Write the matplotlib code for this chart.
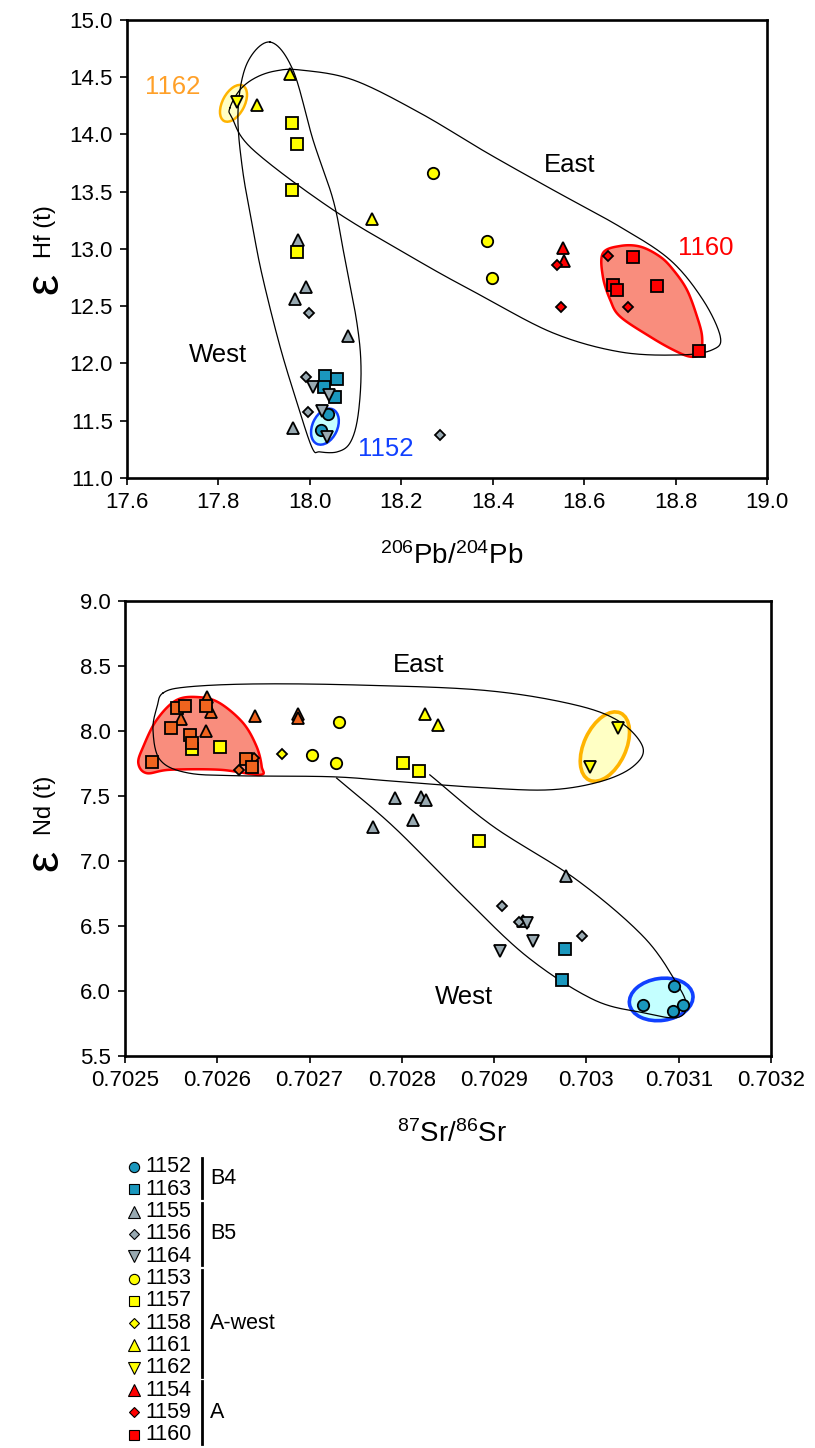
import numpy as np
import matplotlib
matplotlib.use("Agg")
import matplotlib.pyplot as plt
from matplotlib.patches import Ellipse, Polygon
from matplotlib.transforms import ScaledTranslation

plt.rcParams['font.family'] = ['Liberation Sans', 'DejaVu Sans']
plt.rcParams['mathtext.default'] = 'regular'
NARROW = ['Liberation Sans Narrow', 'Liberation Sans', 'DejaVu Sans']

# ---------------- data: top panel (206Pb/204Pb vs eHf) ----------------
hf_1152_x = [18.040, 18.025]
hf_1152_y = [11.559, 11.420]
hf_1163_x = [18.034, 18.059, 18.031, 18.055]
hf_1163_y = [11.891, 11.862, 11.792, 11.705]
hf_1155_x = [17.975, 17.992, 17.968, 18.083, 17.963]
hf_1155_y = [13.078, 12.665, 12.563, 12.243, 11.440]
hf_1156_x = [17.998, 17.992, 17.995, 18.285]
hf_1156_y = [12.443, 11.880, 11.579, 11.374]
hf_1164_x = [18.006, 18.041, 18.027, 18.037]
hf_1164_y = [11.798, 11.725, 11.588, 11.361]
hf_1153_x = [18.270, 18.388, 18.399]
hf_1153_y = [13.665, 13.069, 12.749]
hf_1157_x = [17.960, 17.971, 17.960, 17.971]
hf_1157_y = [14.096, 13.915, 13.514, 12.970]
hf_1161_x = [17.957, 17.884, 18.135]
hf_1161_y = [14.526, 14.256, 13.258]
hf_1162_x = [17.840]
hf_1162_y = [14.284]
hf_1154_x = [18.553, 18.557]
hf_1154_y = [13.010, 12.892]
hf_1159_x = [18.540, 18.550, 18.653, 18.695]
hf_1159_y = [12.857, 12.496, 12.941, 12.496]
hf_1160_x = [18.706, 18.664, 18.672, 18.760, 18.852]
hf_1160_y = [12.932, 12.685, 12.641, 12.679, 12.112]

# envelopes (outline points)
hf_west_x = [17.913, 17.963, 18.007, 18.051, 18.073, 18.103, 18.112, 18.105, 18.088, 18.060,
             18.022, 18.005, 17.972, 17.935, 17.898, 17.878, 17.852, 17.843, 17.863]
hf_west_y = [14.805, 14.561, 13.950, 13.427, 12.990, 12.353, 11.943, 11.533, 11.307, 11.228,
             11.228, 11.263, 11.656, 12.144, 12.729, 13.121, 13.715, 14.212, 14.622]
hf_east_x = [17.825, 17.847, 17.880, 17.924, 17.979, 18.095, 18.241, 18.388, 18.532, 18.679,
             18.788, 18.860, 18.898, 18.880, 18.810, 18.679, 18.532, 18.372, 18.241, 18.051,
             17.876, 17.830]
hf_east_y = [14.229, 14.387, 14.491, 14.552, 14.561, 14.474, 14.186, 13.837, 13.514, 13.191,
             12.903, 12.554, 12.231, 12.118, 12.074, 12.100, 12.266, 12.598, 12.886, 13.340,
             13.864, 14.142]
hf_1160_env_x = [18.641, 18.679, 18.723, 18.766, 18.795, 18.825, 18.847, 18.858, 18.854, 18.832,
                 18.795, 18.744, 18.679, 18.657, 18.641]
hf_1160_env_y = [12.962, 13.025, 13.019, 12.932, 12.816, 12.641, 12.408, 12.234, 12.089, 12.059,
                 12.118, 12.234, 12.408, 12.554, 12.757]
hf_1162_ell = (17.833, 14.270)
hf_1152_ell = (18.033, 11.448)

# ---------------- data: bottom panel (87Sr/86Sr vs eNd) ----------------
nd_1152_x = [0.7030946, 0.7030614, 0.7031047, 0.7030939]
nd_1152_y = [6.040, 5.894, 5.894, 5.848]
nd_1163_x = [0.7029769, 0.7029733]
nd_1163_y = [6.327, 6.091]
nd_1155_x = [0.7027924, 0.7028203, 0.7028257, 0.7028116, 0.7027683, 0.7029784, 0.7029314]
nd_1155_y = [7.485, 7.492, 7.472, 7.313, 7.262, 6.883, 6.538]
nd_1156_x = [0.7029080, 0.7029271, 0.7029957]
nd_1156_y = [6.659, 6.534, 6.423]
nd_1164_x = [0.7029351, 0.7029416, 0.7029062]
nd_1164_y = [6.526, 6.385, 6.308]
nd_1153_x = [0.7027318, 0.7027029, 0.7027285]
nd_1153_y = [8.070, 7.814, 7.753]
nd_1157_x = [0.7025722, 0.7026029, 0.7028014, 0.7028184, 0.7028834]
nd_1157_y = [7.860, 7.876, 7.753, 7.689, 7.157]
nd_1158_x = [0.7026704]
nd_1158_y = [7.824]
nd_1161_x = [0.7028249, 0.7028393]
nd_1161_y = [8.131, 8.047]
nd_1162_x = [0.7030343, 0.7030036]
nd_1162_y = [8.021, 7.727]
nd_1154_x = [0.7025891, 0.7025928, 0.7025603, 0.7025877, 0.7026408, 0.7026877, 0.7026877]
nd_1154_y = [8.264, 8.146, 8.091, 8.003, 8.116, 8.129, 8.098]
nd_1159_x = [0.7026235, 0.7026397]
nd_1159_y = [7.702, 7.792]
nd_1160_x = [0.7025566, 0.7025653, 0.7025874, 0.7025495, 0.7025701, 0.7025722, 0.7025289,
             0.7026307, 0.7026372]
nd_1160_y = [8.175, 8.192, 8.192, 8.024, 7.972, 7.906, 7.763, 7.788, 7.727]

nd_east_x = [0.7025412, 0.7025672, 0.7026386, 0.7027469, 0.7028845, 0.7029787, 0.7030329,
             0.7030610, 0.7030502, 0.7030145, 0.7029603, 0.7028877, 0.7027979, 0.7027253,
             0.7026213, 0.7025672, 0.7025379, 0.7025303, 0.7025347]
nd_east_y = [8.292, 8.338, 8.361, 8.354, 8.315, 8.215, 8.085, 7.878, 7.725, 7.610, 7.548,
             7.564, 7.610, 7.648, 7.656, 7.679, 7.779, 8.009, 8.185]
nd_west_x = [0.7027293, 0.7027906, 0.7028628, 0.7029351, 0.7030072, 0.7030614, 0.7030975,
             0.7031084, 0.7030975, 0.7030614, 0.7029892, 0.7028989, 0.7028303]
nd_west_y = [7.638, 7.267, 6.756, 6.270, 5.938, 5.836, 5.798, 5.887, 6.066, 6.423, 6.858,
             7.267, 7.663]
nd_1160_env_x = [0.7025144, 0.7025235, 0.7025487, 0.7026029, 0.7026462, 0.7026481, 0.7026426,
                 0.7026281, 0.7026029, 0.7025812, 0.7025560, 0.7025343, 0.7025198]
nd_1160_env_y = [7.753, 7.676, 7.702, 7.702, 7.663, 7.727, 7.880, 8.060, 8.213, 8.259, 8.238,
                 8.085, 7.880]
nd_1162_ell = (0.7030200, 7.880)
nd_1152_ell = (0.7030810, 5.938)

hf_xticks = [17.6, 17.8, 18.0, 18.2, 18.4, 18.6, 18.8, 19.0]
hf_yticks = [11.0, 11.5, 12.0, 12.5, 13.0, 13.5, 14.0, 14.5, 15.0]
nd_xticks = [0.7025, 0.7026, 0.7027, 0.7028, 0.7029, 0.7030, 0.7031, 0.7032]
nd_xticklabels = ['0.7025', '0.7026', '0.7027', '0.7028', '0.7029', '0.703', '0.7031', '0.7032']
nd_yticks = [5.5, 6.0, 6.5, 7.0, 7.5, 8.0, 8.5, 9.0]

legend_groups = [('B4', ['1152', '1163']),
                 ('B5', ['1155', '1156', '1164']),
                 ('A-west', ['1153', '1157', '1158', '1161', '1162']),
                 ('A', ['1154', '1159', '1160'])]

# ---------------- styles ----------------
TEAL = '#1a97bd'
GRAY = '#98a9b1'
YEL = '#ffff00'
RED = '#ff0000'
ORANGE = '#f0641e'
SALMON = '#f98d7d'

style = {
    '1152': ('o', TEAL, 8.2), '1163': ('s', TEAL, 8.0),
    '1155': ('^', GRAY, 9.2), '1156': ('D', GRAY, 5.4), '1164': ('v', GRAY, 9.2),
    '1153': ('o', YEL, 8.2), '1157': ('s', YEL, 8.0), '1158': ('D', YEL, 5.4),
    '1161': ('^', YEL, 9.2), '1162': ('v', YEL, 9.2),
    '1154': ('^', RED, 9.2), '1159': ('D', RED, 5.4), '1160': ('s', RED, 8.0),
}


def cr_closed(xs, ys, n=24):
    P = np.column_stack([xs, ys]).astype(float)
    N = len(P)
    t = np.linspace(0, 1, n, endpoint=False)[:, None]
    segs = []
    for i in range(N):
        p0, p1, p2, p3 = P[(i - 1) % N], P[i], P[(i + 1) % N], P[(i + 2) % N]
        segs.append(0.5 * (2 * p1 + (-p0 + p2) * t + (2 * p0 - 5 * p1 + 4 * p2 - p3) * t ** 2
                           + (-p0 + 3 * p1 - 3 * p2 + p3) * t ** 3))
    out = np.vstack(segs)
    return np.vstack([out, out[:1]])


def cr_open(xs, ys, n=24):
    P = np.column_stack([xs, ys]).astype(float)
    P = np.vstack([2 * P[0] - P[1], P, 2 * P[-1] - P[-2]])
    t = np.linspace(0, 1, n)[:, None]
    segs = []
    for i in range(1, len(P) - 2):
        p0, p1, p2, p3 = P[i - 1], P[i], P[i + 1], P[i + 2]
        segs.append(0.5 * (2 * p1 + (-p0 + p2) * t + (2 * p0 - 5 * p1 + 4 * p2 - p3) * t ** 2
                           + (-p0 + 3 * p1 - 3 * p2 + p3) * t ** 3))
    return np.vstack(segs)


def pix_ellipse(ax, fig, center, w_in, h_in, angle, fc, ec, lw):
    tr = fig.dpi_scale_trans + ScaledTranslation(center[0], center[1], ax.transData)
    e = Ellipse((0, 0), w_in, h_in, angle=angle, transform=tr, facecolor=fc,
                edgecolor=ec, lw=lw, zorder=2)
    ax.add_patch(e)


def style_axes(ax):
    for s in ax.spines.values():
        s.set_linewidth(1.9)
    ax.tick_params(direction='out', length=5, width=1.2, labelsize=16, top=False, right=False,
                   pad=5)
    for lab in ax.get_xticklabels() + ax.get_yticklabels():
        lab.set_family(NARROW)


fig = plt.figure(figsize=(8.15, 14.48), dpi=100)

# ================= top panel =================
ax1 = fig.add_axes([0.1558, 0.6699, 0.7853, 0.3165])
ax1.set_xlim(17.6, 19.0)
ax1.set_ylim(11.0, 15.0)
ax1.set_xticks(hf_xticks)
ax1.set_xticklabels(['%.1f' % v for v in hf_xticks])
ax1.set_yticks(hf_yticks)
ax1.set_yticklabels(['%.1f' % v for v in hf_yticks])
style_axes(ax1)

c = cr_closed(hf_1160_env_x, hf_1160_env_y)
ax1.add_patch(Polygon(c, closed=True, facecolor=SALMON, edgecolor=RED, lw=1.8, zorder=1))
pix_ellipse(ax1, fig, hf_1162_ell, 0.40, 0.22, 62, '#ffffc4', '#ffb400', 1.8)
pix_ellipse(ax1, fig, hf_1152_ell, 0.38, 0.25, 65, '#c4ffff', '#1040ff', 1.8)
for ex, ey in [(hf_west_x, hf_west_y), (hf_east_x, hf_east_y)]:
    c = cr_closed(ex, ey)
    ax1.plot(c[:, 0], c[:, 1], color='black', lw=0.9, zorder=3)

top_series = [('1152', hf_1152_x, hf_1152_y), ('1163', hf_1163_x, hf_1163_y),
              ('1155', hf_1155_x, hf_1155_y), ('1156', hf_1156_x, hf_1156_y),
              ('1164', hf_1164_x, hf_1164_y), ('1153', hf_1153_x, hf_1153_y),
              ('1157', hf_1157_x, hf_1157_y), ('1161', hf_1161_x, hf_1161_y),
              ('1162', hf_1162_x, hf_1162_y), ('1154', hf_1154_x, hf_1154_y),
              ('1159', hf_1159_x, hf_1159_y), ('1160', hf_1160_x, hf_1160_y)]
for sid, xs, ys in top_series:
    m, col, ms = style[sid]
    ax1.plot(xs, ys, ls='none', marker=m, mfc=col, mec='black', mew=1.3, ms=ms, zorder=5)

ax1.text(17.70, 14.41, '1162', color='#ffa028', fontsize=18.5, ha='center', va='center')
ax1.text(17.80, 12.07, 'West', color='black', fontsize=18.5, ha='center', va='center')
ax1.text(18.165, 11.25, '1152', color='#1040ff', fontsize=18.5, ha='center', va='center')
ax1.text(18.568, 13.73, 'East', color='black', fontsize=18.5, ha='center', va='center')
ax1.text(18.865, 13.01, '1160', color=RED, fontsize=18.5, ha='center', va='center')

fig.text(452 / 815, 1 - 556 / 1448, r'$^{206}$Pb/$^{204}$Pb', fontsize=20, family=NARROW,
         ha='center', va='center')
fig.text(45 / 815, 1 - 283 / 1448, 'ε', fontsize=34, rotation=90, ha='center', va='center')
fig.text(45 / 815, 1 - 232 / 1448, 'Hf (t)', fontsize=17, family=NARROW, rotation=90,
         ha='center', va='center')

# ================= bottom panel =================
ax2 = fig.add_axes([0.1534, 0.2704, 0.7926, 0.3147])
ax2.set_xlim(0.7025, 0.7032)
ax2.set_ylim(5.5, 9.0)
ax2.set_xticks(nd_xticks)
ax2.set_xticklabels(nd_xticklabels)
ax2.set_yticks(nd_yticks)
ax2.set_yticklabels(['%.1f' % v for v in nd_yticks])
style_axes(ax2)

c = cr_closed(nd_1160_env_x, nd_1160_env_y)
ax2.add_patch(Polygon(c, closed=True, facecolor=SALMON, edgecolor=RED, lw=1.8, zorder=1))
pix_ellipse(ax2, fig, nd_1162_ell, 0.74, 0.42, 65, '#ffffc4', '#ffb400', 2.6)
pix_ellipse(ax2, fig, nd_1152_ell, 0.64, 0.42, 8, '#c4ffff', '#1040ff', 2.6)
c = cr_closed(nd_east_x, nd_east_y)
ax2.plot(c[:, 0], c[:, 1], color='black', lw=0.9, zorder=3)
c = cr_open(nd_west_x, nd_west_y)
ax2.plot(c[:, 0], c[:, 1], color='black', lw=0.9, zorder=3)

bottom_colors = {'1154': ORANGE, '1159': ORANGE, '1160': ORANGE}
bot_series = [('1152', nd_1152_x, nd_1152_y), ('1163', nd_1163_x, nd_1163_y),
              ('1155', nd_1155_x, nd_1155_y), ('1156', nd_1156_x, nd_1156_y),
              ('1164', nd_1164_x, nd_1164_y), ('1153', nd_1153_x, nd_1153_y),
              ('1157', nd_1157_x, nd_1157_y), ('1158', nd_1158_x, nd_1158_y),
              ('1161', nd_1161_x, nd_1161_y), ('1162', nd_1162_x, nd_1162_y),
              ('1154', nd_1154_x, nd_1154_y), ('1159', nd_1159_x, nd_1159_y),
              ('1160', nd_1160_x, nd_1160_y)]
for sid, xs, ys in bot_series:
    m, col, ms = style[sid]
    col = bottom_colors.get(sid, col)
    ax2.plot(xs, ys, ls='none', marker=m, mfc=col, mec='black', mew=1.3, ms=ms, zorder=5)

ax2.text(0.7028177, 8.507, 'East', color='black', fontsize=18.5, ha='center', va='center')
ax2.text(0.7028672, 5.956, 'West', color='black', fontsize=18.5, ha='center', va='center')

fig.text(452 / 815, 1 - 1134 / 1448, r'$^{87}$Sr/$^{86}$Sr', fontsize=20, family=NARROW,
         ha='center', va='center')
fig.text(45 / 815, 1 - 860 / 1448, 'ε', fontsize=34, rotation=90, ha='center', va='center')
fig.text(45 / 815, 1 - 805 / 1448, 'Nd (t)', fontsize=17, family=NARROW, rotation=90,
         ha='center', va='center')

# ================= legend =================
lax = fig.add_axes([0, 0, 1, 1])
lax.set_xlim(0, 815)
lax.set_ylim(1448, 0)
lax.axis('off')
y0, dy = 1167, 22.3
k = 0
for gname, ids in legend_groups:
    ys = []
    for sid in ids:
        y = y0 + k * dy
        m, col, ms = style[sid]
        lax.plot([133.5], [y], ls='none', marker=m, mfc=col, mec='black', mew=0.8,
                 ms=ms * 0.9)
        lax.text(145, y, sid, fontsize=15.5, family=NARROW, ha='left', va='center')
        ys.append(y)
        k += 1
    lax.plot([202, 202], [ys[0] - 9, ys[-1] + 9], color='black', lw=2)
    lax.text(210, (ys[0] + ys[-1]) / 2, gname, fontsize=15.5, family=NARROW,
             ha='left', va='center')

fig.savefig('out.png', dpi=100)
